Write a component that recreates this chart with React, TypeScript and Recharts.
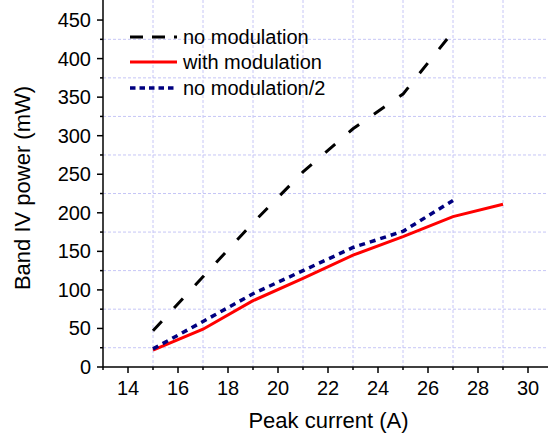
import { LineChart, Line, XAxis, YAxis, CartesianGrid, Legend } from 'recharts';

// Peak current (A) for each measurement
const currentNoMod = [15, 17, 19, 21, 23, 25, 27];
const currentWithMod = [15, 17, 19, 21, 23, 25, 27, 29];

// Band IV power (mW)
const powerNoMod = [47, 117, 187, 253, 309, 354, 435];
const powerWithMod = [22, 49, 86, 115, 145, 169, 195, 211];
const powerNoModHalf = [23.5, 59, 95, 125, 155, 176, 216];

const xTicks = [13, 14, 15, 16, 17, 18, 19, 20, 21, 22, 23, 24, 25, 26, 27, 28, 29, 30];
const yTicks = [0, 25, 50, 75, 100, 125, 150, 175, 200, 225, 250, 275, 300, 325, 350, 375, 400, 425, 450];
const gridX = [15, 17, 19, 21, 23, 25, 27, 29];
const gridY = [25, 75, 125, 175, 225, 275, 325, 375, 425];

const FONT = 'Arial, "Liberation Sans", sans-serif';

const toPoints = (xs: number[], ys: number[]) => xs.map((x, i) => ({ x, y: ys[i] }));

const seriesNoMod = toPoints(currentNoMod, powerNoMod);
const seriesWithMod = toPoints(currentWithMod, powerWithMod);
const seriesNoModHalf = toPoints(currentNoMod, powerNoModHalf);

const legendItems = [
  { name: 'no modulation', stroke: '#000000', dash: '13 9', width: 3 },
  { name: 'with modulation', stroke: '#ff0000', dash: undefined, width: 3 },
  { name: 'no modulation/2', stroke: '#000080', dash: '5.5 4', width: 3.5 },
];

function XTick(props: any) {
  const { x, y, payload } = props;
  const major = payload.value % 2 === 0;
  return (
    <g>
      <line x1={x} x2={x} y1={y} y2={y + (major ? 6 : 3)} stroke="#000" strokeWidth={1.5} />
      {major && (
        <text x={x} y={y + 28} textAnchor="middle" fontSize={20} fontFamily={FONT} fill="#000">
          {payload.value}
        </text>
      )}
    </g>
  );
}

function YTick(props: any) {
  const { x, y, payload } = props;
  const major = payload.value % 50 === 0;
  return (
    <g>
      <line x1={x - (major ? 6 : 3)} x2={x} y1={y} y2={y} stroke="#000" strokeWidth={1.5} />
      {major && (
        <text x={x - 12} y={y} textAnchor="end" dominantBaseline="central" fontSize={20} fontFamily={FONT} fill="#000">
          {payload.value}
        </text>
      )}
    </g>
  );
}

function LegendBox() {
  return (
    <div style={{ fontFamily: FONT, fontSize: 20, color: '#000' }}>
      {legendItems.map((item) => (
        <div key={item.name} style={{ display: 'flex', alignItems: 'center', height: 25.5 }}>
          <svg width={53} height={10} style={{ flex: 'none' }}>
            <line
              x1={0}
              x2={47}
              y1={5}
              y2={5}
              stroke={item.stroke}
              strokeWidth={item.width}
              strokeDasharray={item.dash}
            />
          </svg>
          <span style={{ lineHeight: '20px', whiteSpace: 'nowrap' }}>{item.name}</span>
        </div>
      ))}
    </div>
  );
}

export default function App() {
  return (
    <div style={{ position: 'absolute', left: 0, top: 0, width: 548, height: 442, background: '#fff', overflow: 'hidden' }}>
      <LineChart width={548} height={442} margin={{ top: 0, right: 0, left: 0, bottom: 0 }}>
        <CartesianGrid
          horizontal
          vertical
          horizontalValues={gridY}
          verticalValues={gridX}
          stroke="#c6c6f6"
          strokeDasharray="3 2"
          strokeWidth={1}
        />
        <XAxis
          type="number"
          dataKey="x"
          domain={[13, 30.8]}
          ticks={xTicks}
          interval={0}
          allowDataOverflow
          height={75}
          tickSize={0}
          tickMargin={0}
          tick={<XTick />}
          axisLine={{ stroke: '#000', strokeWidth: 1.5 }}
          label={(p: any) => {
            const vb = p.viewBox;
            return (
              <text x={vb.x + vb.width / 2 + 3} y={428} textAnchor="middle" fontSize={22} fontFamily={FONT} fill="#000">
                Peak current (A)
              </text>
            );
          }}
        />
        <YAxis
          type="number"
          dataKey="y"
          domain={[0, 476]}
          ticks={yTicks}
          interval={0}
          allowDataOverflow
          width={103}
          tickSize={0}
          tickMargin={0}
          tick={<YTick />}
          axisLine={{ stroke: '#000', strokeWidth: 1.5 }}
          label={() => (
            <text
              x={22}
              y={188}
              transform="rotate(-90 22 188)"
              textAnchor="middle"
              dominantBaseline="central"
              fontSize={22}
              fontFamily={FONT}
              fill="#000"
            >
              Band IV power (mW)
            </text>
          )}
        />
        {/* centred/middle keeps the legend out of the plot offset; wrapperStyle pins it top-left */}
        <Legend
          layout="vertical"
          verticalAlign="middle"
          align="center"
          wrapperStyle={{ position: 'absolute', left: 130, top: 24, width: 'auto', height: 'auto' }}
          content={() => <LegendBox />}
        />
        <Line
          data={seriesNoMod}
          dataKey="y"
          name="no modulation"
          type="linear"
          stroke="#000000"
          strokeWidth={3}
          strokeDasharray="13 18"
          dot={false}
          isAnimationActive={false}
        />
        <Line
          data={seriesWithMod}
          dataKey="y"
          name="with modulation"
          type="linear"
          stroke="#ff0000"
          strokeWidth={3}
          dot={false}
          isAnimationActive={false}
        />
        <Line
          data={seriesNoModHalf}
          dataKey="y"
          name="no modulation/2"
          type="linear"
          stroke="#000080"
          strokeWidth={3.5}
          strokeDasharray="6 5"
          dot={false}
          isAnimationActive={false}
        />
      </LineChart>
    </div>
  );
}
